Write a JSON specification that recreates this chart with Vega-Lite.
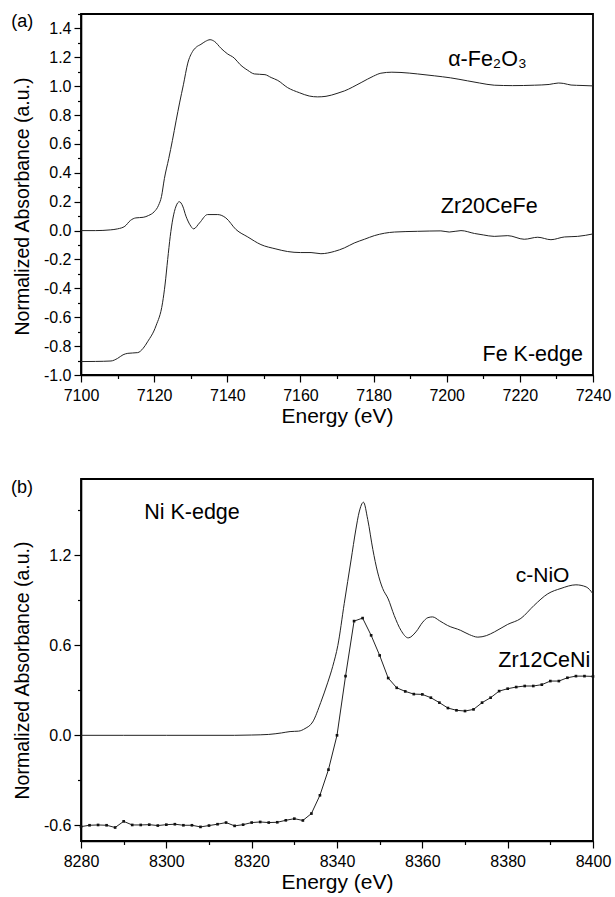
{
  "$schema": "https://vega.github.io/schema/vega-lite/v6.json",
  "padding": {"left": 10, "top": 5, "right": 5, "bottom": 2},
  "spacing": 51,
  "config": {
    "font": "Liberation Sans",
    "view": {"stroke": "black", "strokeWidth": 1.8},
    "axis": {
      "grid": false,
      "domainColor": "black",
      "domainWidth": 1.6,
      "tickColor": "black",
      "tickWidth": 1.2,
      "labelFont": "Liberation Sans",
      "labelFontSize": 16,
      "labelColor": "black",
      "labelOverlap": false,
      "labelFlush": false,
      "titleFont": "Liberation Sans",
      "titleFontWeight": "normal",
      "titleColor": "black"
    }
  },
  "datasets": {
    "fe2o3": [
      {"E": 7100, "A": 0.0}, {"E": 7104, "A": 0.0}, {"E": 7108, "A": 0.005}, {"E": 7110, "A": 0.012},
      {"E": 7112, "A": 0.03}, {"E": 7113.5, "A": 0.07}, {"E": 7115, "A": 0.088}, {"E": 7117, "A": 0.092},
      {"E": 7118.5, "A": 0.105}, {"E": 7120, "A": 0.13}, {"E": 7121.2, "A": 0.175}, {"E": 7122, "A": 0.235},
      {"E": 7122.8, "A": 0.36}, {"E": 7124, "A": 0.5}, {"E": 7125, "A": 0.625}, {"E": 7126, "A": 0.76},
      {"E": 7127, "A": 0.89}, {"E": 7128, "A": 1.01}, {"E": 7129.2, "A": 1.16}, {"E": 7130.5, "A": 1.24},
      {"E": 7131.5, "A": 1.27},
      {"E": 7132.8, "A": 1.29}, {"E": 7134, "A": 1.31}, {"E": 7135.3, "A": 1.322}, {"E": 7136.5, "A": 1.31},
      {"E": 7138.3, "A": 1.262}, {"E": 7140, "A": 1.225}, {"E": 7141.9, "A": 1.195}, {"E": 7143.5, "A": 1.15},
      {"E": 7145.6, "A": 1.11}, {"E": 7147.4, "A": 1.085}, {"E": 7150.3, "A": 1.08}, {"E": 7152, "A": 1.06},
      {"E": 7153.8, "A": 1.04}, {"E": 7156.5, "A": 0.99}, {"E": 7159.7, "A": 0.955}, {"E": 7162.4, "A": 0.932},
      {"E": 7164.7, "A": 0.926}, {"E": 7167, "A": 0.93}, {"E": 7170, "A": 0.95}, {"E": 7172, "A": 0.967},
      {"E": 7176.6, "A": 1.025}, {"E": 7180, "A": 1.07}, {"E": 7182, "A": 1.09}, {"E": 7185, "A": 1.097},
      {"E": 7187.5, "A": 1.095}, {"E": 7192, "A": 1.085}, {"E": 7196.6, "A": 1.072}, {"E": 7201, "A": 1.058},
      {"E": 7205.7, "A": 1.037}, {"E": 7209, "A": 1.022}, {"E": 7213, "A": 1.007}, {"E": 7218, "A": 1.004},
      {"E": 7224, "A": 1.007}, {"E": 7228, "A": 1.012}, {"E": 7230.5, "A": 1.022}, {"E": 7232, "A": 1.019},
      {"E": 7234, "A": 1.008}, {"E": 7237, "A": 1.005}, {"E": 7240, "A": 1.002}
    ],
    "zr20cefe": [
      {"E": 7100, "A": -0.907}, {"E": 7104, "A": -0.906}, {"E": 7108.2, "A": -0.903}, {"E": 7110, "A": -0.885},
      {"E": 7111.5, "A": -0.86}, {"E": 7112.8, "A": -0.85}, {"E": 7115.5, "A": -0.845}, {"E": 7117, "A": -0.815},
      {"E": 7118.2, "A": -0.77}, {"E": 7120.5, "A": -0.66}, {"E": 7122.3, "A": -0.5}, {"E": 7123, "A": -0.37},
      {"E": 7123.7, "A": -0.2}, {"E": 7124.4, "A": -0.04}, {"E": 7125.1, "A": 0.08}, {"E": 7126, "A": 0.17},
      {"E": 7126.9, "A": 0.2}, {"E": 7127.8, "A": 0.17}, {"E": 7128.7, "A": 0.1}, {"E": 7129.8, "A": 0.04},
      {"E": 7130.8, "A": 0.012}, {"E": 7132.4, "A": 0.053}, {"E": 7134.6, "A": 0.111}, {"E": 7137.4, "A": 0.111},
      {"E": 7139.6, "A": 0.088}, {"E": 7142.4, "A": 0.007}, {"E": 7145.6, "A": -0.044}, {"E": 7149.2, "A": -0.097},
      {"E": 7153.3, "A": -0.127}, {"E": 7156.5, "A": -0.145}, {"E": 7160, "A": -0.152}, {"E": 7162.9, "A": -0.152},
      {"E": 7165.6, "A": -0.16}, {"E": 7169.3, "A": -0.144}, {"E": 7172, "A": -0.12}, {"E": 7174.7, "A": -0.086},
      {"E": 7177.5, "A": -0.06}, {"E": 7180.2, "A": -0.035}, {"E": 7185.7, "A": -0.01}, {"E": 7192, "A": -0.005},
      {"E": 7198.4, "A": -0.002}, {"E": 7200.7, "A": -0.01}, {"E": 7203.9, "A": 0.0}, {"E": 7207.6, "A": -0.02},
      {"E": 7210, "A": -0.03}, {"E": 7213, "A": -0.04}, {"E": 7216.7, "A": -0.035}, {"E": 7221.2, "A": -0.06},
      {"E": 7224.9, "A": -0.046}, {"E": 7228.5, "A": -0.063}, {"E": 7232.2, "A": -0.044}, {"E": 7235.8, "A": -0.04},
      {"E": 7240, "A": -0.023}
    ],
    "feLabels": [
      {"E": 7200.4, "A": 1.139, "label": "α-Fe₂O₃", "size": 21.5},
      {"E": 7198.4, "A": 0.125, "label": "Zr20CeFe", "size": 21.5},
      {"E": 7209.8, "A": -0.9, "label": "Fe K-edge", "size": 21.5},
      {"E": 7080.9, "A": 1.41, "label": "(a)", "size": 18}
    ],
    "nio": [
      {"E": 8280, "A": 0.0}, {"E": 8290, "A": 0.0}, {"E": 8300, "A": 0.0}, {"E": 8310, "A": 0.0},
      {"E": 8316, "A": 0.0}, {"E": 8320, "A": 0.002}, {"E": 8324, "A": 0.006}, {"E": 8327, "A": 0.016},
      {"E": 8329, "A": 0.025}, {"E": 8331, "A": 0.028}, {"E": 8332.5, "A": 0.045}, {"E": 8334.3, "A": 0.089},
      {"E": 8336.2, "A": 0.22}, {"E": 8337.8, "A": 0.35}, {"E": 8339, "A": 0.46}, {"E": 8340.2, "A": 0.6},
      {"E": 8341.7, "A": 0.88}, {"E": 8343.3, "A": 1.17}, {"E": 8344.4, "A": 1.37}, {"E": 8345.2, "A": 1.49},
      {"E": 8346.2, "A": 1.555}, {"E": 8347.2, "A": 1.44}, {"E": 8348.4, "A": 1.24}, {"E": 8349.5, "A": 1.09},
      {"E": 8350.7, "A": 0.98}, {"E": 8352, "A": 0.91}, {"E": 8353.4, "A": 0.8}, {"E": 8355, "A": 0.7},
      {"E": 8356.7, "A": 0.65}, {"E": 8358.5, "A": 0.69}, {"E": 8360.1, "A": 0.755}, {"E": 8361.3, "A": 0.785},
      {"E": 8362.4, "A": 0.79}, {"E": 8364, "A": 0.765}, {"E": 8365.9, "A": 0.733}, {"E": 8369, "A": 0.7},
      {"E": 8371, "A": 0.672}, {"E": 8373, "A": 0.655}, {"E": 8375, "A": 0.665}, {"E": 8376.9, "A": 0.69},
      {"E": 8380, "A": 0.74}, {"E": 8383.1, "A": 0.78}, {"E": 8386.2, "A": 0.867}, {"E": 8389.4, "A": 0.944},
      {"E": 8392.5, "A": 0.98}, {"E": 8396, "A": 1.004}, {"E": 8398.4, "A": 0.99}, {"E": 8400, "A": 0.944}
    ],
    "zr12ceni": [
      {"E": 8280, "A": -0.609}, {"E": 8282, "A": -0.6}, {"E": 8284, "A": -0.598}, {"E": 8286, "A": -0.6},
      {"E": 8288, "A": -0.615}, {"E": 8290, "A": -0.574}, {"E": 8292, "A": -0.598}, {"E": 8294, "A": -0.598},
      {"E": 8296, "A": -0.596}, {"E": 8298, "A": -0.602}, {"E": 8300, "A": -0.596}, {"E": 8302, "A": -0.593},
      {"E": 8304, "A": -0.6}, {"E": 8306, "A": -0.6}, {"E": 8308, "A": -0.611}, {"E": 8310, "A": -0.602},
      {"E": 8312, "A": -0.593}, {"E": 8314, "A": -0.582}, {"E": 8316, "A": -0.604}, {"E": 8318, "A": -0.596},
      {"E": 8320, "A": -0.582}, {"E": 8322, "A": -0.578}, {"E": 8324, "A": -0.582}, {"E": 8326, "A": -0.58},
      {"E": 8328, "A": -0.567}, {"E": 8330, "A": -0.556}, {"E": 8332, "A": -0.568}, {"E": 8334, "A": -0.522},
      {"E": 8336, "A": -0.4}, {"E": 8338, "A": -0.229}, {"E": 8340, "A": 0.0}, {"E": 8342, "A": 0.395},
      {"E": 8344, "A": 0.762}, {"E": 8346, "A": 0.782}, {"E": 8348, "A": 0.667}, {"E": 8350, "A": 0.533},
      {"E": 8352, "A": 0.382}, {"E": 8354, "A": 0.317}, {"E": 8356, "A": 0.293}, {"E": 8358, "A": 0.275},
      {"E": 8360, "A": 0.273}, {"E": 8362, "A": 0.251}, {"E": 8364, "A": 0.218}, {"E": 8366, "A": 0.182},
      {"E": 8368, "A": 0.167}, {"E": 8370, "A": 0.162}, {"E": 8372, "A": 0.173}, {"E": 8374, "A": 0.218},
      {"E": 8376, "A": 0.251}, {"E": 8378, "A": 0.295}, {"E": 8380, "A": 0.311}, {"E": 8382, "A": 0.322},
      {"E": 8384, "A": 0.329}, {"E": 8386, "A": 0.329}, {"E": 8388, "A": 0.338}, {"E": 8390, "A": 0.362},
      {"E": 8392, "A": 0.362}, {"E": 8394, "A": 0.384}, {"E": 8396, "A": 0.395}, {"E": 8398, "A": 0.395},
      {"E": 8400, "A": 0.393}
    ],
    "niLabels": [
      {"E": 8294.8, "A": 1.444, "label": "Ni K-edge", "size": 21.5},
      {"E": 8381.9, "A": 1.022, "label": "c-NiO", "size": 21},
      {"E": 8377.8, "A": 0.455, "label": "Zr12CeNi", "size": 21.5},
      {"E": 8263.6, "A": 1.617, "label": "(b)", "size": 18}
    ]
  },
  "vconcat": [
    {
      "width": 512,
      "height": 361,
      "encoding": {
        "x": {
          "field": "E", "type": "quantitative",
          "scale": {"domain": [7100, 7240], "nice": false, "zero": false},
          "axis": {
            "title": "Energy (eV)", "titleFontSize": 21, "titlePadding": 2,
            "values": [7100, 7110, 7120, 7130, 7140, 7150, 7160, 7170, 7180, 7190, 7200, 7210, 7220, 7230, 7240],
            "format": "d",
            "labelExpr": "datum.value % 20 == 0 ? datum.label : ''",
            "labelPadding": 5,
            "tickSize": {"condition": {"test": "datum.value % 20 != 0", "value": 3.5}, "value": 7}
          }
        },
        "y": {
          "field": "A", "type": "quantitative",
          "scale": {"domain": [-1.0, 1.5], "nice": false, "zero": false},
          "axis": {
            "title": "Normalized Absorbance (a.u.)", "titleFontSize": 19.5, "titlePadding": 11, "titleY": 192,
            "values": [-1.0, -0.9, -0.8, -0.7, -0.6, -0.5, -0.4, -0.3, -0.2, -0.1, 0.0, 0.1, 0.2, 0.3, 0.4, 0.5, 0.6, 0.7, 0.8, 0.9, 1.0, 1.1, 1.2, 1.3, 1.4, 1.5],
            "labelExpr": "abs(round(datum.value * 10)) % 2 == 1 ? '' : (datum.value < 0 ? '-' : '') + format(abs(datum.value), '.1f')",
            "labelPadding": 3,
            "tickSize": {"condition": {"test": "abs(round(datum.value * 10)) % 2 == 1", "value": 3.5}, "value": 7}
          }
        }
      },
      "layer": [
        {
          "data": {"name": "fe2o3"},
          "mark": {"type": "line", "interpolate": "monotone", "color": "#222222", "strokeWidth": 1}
        },
        {
          "data": {"name": "zr20cefe"},
          "mark": {"type": "line", "interpolate": "monotone", "color": "#222222", "strokeWidth": 1}
        },
        {
          "data": {"name": "feLabels"},
          "mark": {"type": "text", "align": "left", "baseline": "alphabetic", "color": "black", "font": "Liberation Sans"},
          "encoding": {
            "text": {"field": "label"},
            "size": {"field": "size", "type": "quantitative", "scale": null}
          }
        }
      ]
    },
    {
      "width": 512,
      "height": 362,
      "encoding": {
        "x": {
          "field": "E", "type": "quantitative",
          "scale": {"domain": [8280, 8400], "nice": false, "zero": false},
          "axis": {
            "title": "Energy (eV)", "titleFontSize": 21, "titlePadding": 2,
            "values": [8280, 8290, 8300, 8310, 8320, 8330, 8340, 8350, 8360, 8370, 8380, 8390, 8400],
            "format": "d",
            "labelExpr": "datum.value % 20 == 0 ? datum.label : ''",
            "labelPadding": 5,
            "tickSize": {"condition": {"test": "datum.value % 20 != 0", "value": 3.5}, "value": 7}
          }
        },
        "y": {
          "field": "A", "type": "quantitative",
          "scale": {"domain": [-0.705, 1.71], "nice": false, "zero": false},
          "axis": {
            "title": "Normalized Absorbance (a.u.)", "titleFontSize": 19.5, "titlePadding": 11, "titleY": 191,
            "values": [-0.6, -0.3, 0.0, 0.3, 0.6, 0.9, 1.2, 1.5],
            "labelExpr": "abs(round(datum.value * 10)) % 6 == 3 ? '' : (datum.value < 0 ? '-' : '') + format(abs(datum.value), '.1f')",
            "labelPadding": 3,
            "tickSize": {"condition": {"test": "abs(round(datum.value * 10)) % 6 == 3", "value": 3.5}, "value": 7}
          }
        }
      },
      "layer": [
        {
          "data": {"name": "nio"},
          "mark": {"type": "line", "interpolate": "monotone", "color": "#222222", "strokeWidth": 1}
        },
        {
          "data": {"name": "zr12ceni"},
          "mark": {"type": "line", "color": "#222222", "strokeWidth": 1,
                   "point": {"shape": "square", "size": 7, "filled": true, "color": "#111111"}}
        },
        {
          "data": {"name": "niLabels"},
          "mark": {"type": "text", "align": "left", "baseline": "alphabetic", "color": "black", "font": "Liberation Sans"},
          "encoding": {
            "text": {"field": "label"},
            "size": {"field": "size", "type": "quantitative", "scale": null}
          }
        }
      ]
    }
  ]
}
